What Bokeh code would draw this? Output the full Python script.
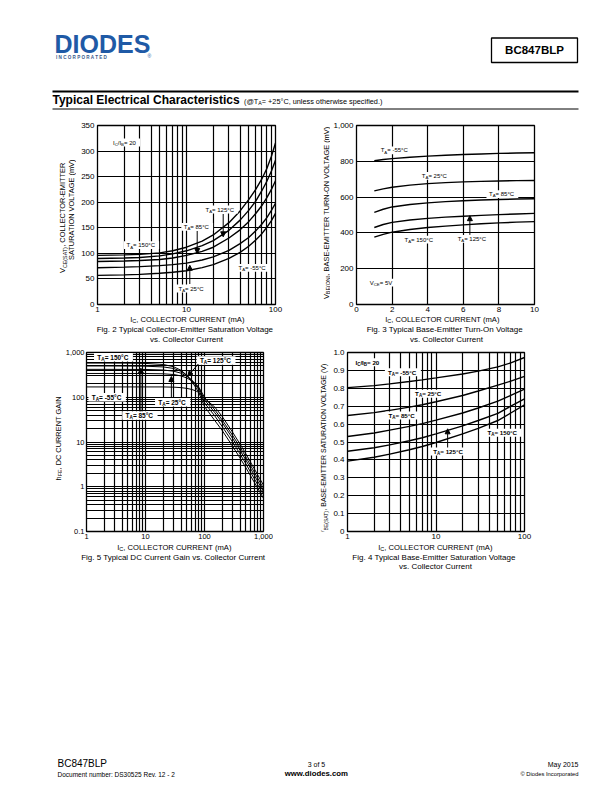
import math
from bokeh.plotting import figure
from bokeh.models import Label, Range1d, FixedTicker, Arrow, NormalHead, BasicTickFormatter
from bokeh.layouts import column, row
from bokeh.embed import file_html
from bokeh.resources import INLINE

FONT = "Liberation Sans"
BLUE = "#1f5aa6"
SUB = 0.72

# ---------------- data ----------------
temps = ["150", "125", "85", "25", "-55"]

# Fig. 2  VCE(SAT) (mV) vs IC (mA), IC/IB = 20
fig2_ic = [1, 2, 3, 5, 7, 10, 15, 20, 30, 40, 50, 60, 70, 80, 90, 100]
fig2_vce_150 = [96, 97, 98, 101, 105, 112, 124, 136, 160, 183, 205, 225, 245, 266, 290, 316]
fig2_vce_125 = [90, 91, 92, 95, 99, 105, 115, 125, 145, 165, 184, 202, 222, 241, 261, 282]
fig2_vce_85 = [84, 85, 86, 88, 91, 96, 104, 112, 130, 146, 162, 178, 193, 209, 225, 242]
fig2_vce_25 = [72, 73, 74, 76, 78, 81, 87, 93, 106, 119, 131, 144, 157, 170, 184, 198]
fig2_vce_m55 = [57, 58, 59, 61, 63, 66, 72, 78, 90, 102, 114, 126, 138, 151, 164, 178]
fig2_xticks = [1, 10, 100]
fig2_xlabels = ["1", "10", "100"]
fig2_yticks = [0, 50, 100, 150, 200, 250, 300, 350]
fig2_ylabels = ["0", "50", "100", "150", "200", "250", "300", "350"]

# Fig. 3  VBE(ON) (mV) vs IC (mA), VCE = 5V
fig3_ic = [1, 1.5, 2, 3, 4, 5, 6, 7, 8, 9, 10]
fig3_vbe_m55 = [803, 810, 815, 823, 829, 834, 838, 841, 844, 846, 848]
fig3_vbe_25 = [635, 646, 655, 667, 675, 681, 685, 688, 690, 692, 693]
fig3_vbe_85 = [515, 532, 545, 559, 568, 575, 580, 584, 587, 589, 591]
fig3_vbe_125 = [430, 447, 459, 472, 481, 488, 493, 498, 502, 506, 509]
fig3_vbe_150 = [376, 392, 404, 419, 430, 438, 445, 451, 456, 460, 463]
fig3_xticks = [0, 2, 4, 6, 8, 10]
fig3_xlabels = ["0", "2", "4", "6", "8", "10"]
fig3_yticks = [0, 200, 400, 600, 800, 1000]
fig3_ylabels = ["0", "200", "400", "600", "800", "1,000"]

# Fig. 5  hFE vs IC (mA)
fig5_ic = [1, 2, 5, 10, 20, 30, 40, 50, 60, 70, 80, 100, 150, 200, 300, 400, 500, 700, 1000]
fig5_hfe_150 = [580, 580, 578, 570, 540, 480, 400, 310, 230, 170, 128, 62, 30, 18, 8.0, 4.4, 2.7, 1.25, 0.55]
fig5_hfe_125 = [500, 500, 498, 494, 476, 440, 380, 310, 245, 190, 148, 75, 38, 22, 10, 5.4, 3.3, 1.5, 0.66]
fig5_hfe_85 = [420, 420, 419, 417, 406, 382, 345, 295, 245, 200, 162, 88, 45, 27, 12, 6.5, 4.0, 1.8, 0.78]
fig5_hfe_25 = [340, 340, 340, 339, 334, 322, 300, 270, 235, 200, 168, 100, 52, 31, 14, 7.6, 4.7, 2.1, 0.92]
fig5_hfe_m55 = [170, 170, 170, 170, 170, 168, 164, 158, 150, 140, 128, 95, 60, 37, 16.5, 9.0, 5.5, 2.5, 1.08]
fig5_xticks = [1, 10, 100, 1000]
fig5_xlabels = ["1", "10", "100", "1,000"]
fig5_yticks = [0.1, 1, 10, 100, 1000]
fig5_ylabels = ["0.1", "1", "10", "100", "1,000"]

# Fig. 4  VBE(SAT) (V) vs IC (mA), IC/IB = 20
fig4_ic = [1, 2, 3, 5, 7, 10, 20, 30, 50, 70, 100]
fig4_vbe_m55 = [0.804, 0.815, 0.825, 0.838, 0.847, 0.858, 0.880, 0.896, 0.920, 0.942, 0.972]
fig4_vbe_25 = [0.648, 0.664, 0.677, 0.695, 0.708, 0.725, 0.760, 0.785, 0.818, 0.840, 0.867]
fig4_vbe_85 = [0.531, 0.550, 0.566, 0.587, 0.603, 0.622, 0.662, 0.690, 0.728, 0.760, 0.796]
fig4_vbe_125 = [0.448, 0.468, 0.484, 0.507, 0.524, 0.545, 0.590, 0.620, 0.660, 0.700, 0.741]
fig4_vbe_150 = [0.393, 0.415, 0.432, 0.457, 0.475, 0.497, 0.545, 0.576, 0.620, 0.662, 0.707]
fig4_xticks = [1, 10, 100]
fig4_xlabels = ["1", "10", "100"]
fig4_yticks = [0, 0.1, 0.2, 0.3, 0.4, 0.5, 0.6, 0.7, 0.8, 0.9, 1.0]
fig4_ylabels = ["0", "0.1", "0.2", "0.3", "0.4", "0.5", "0.6", "0.7", "0.8", "0.9", "1.0"]

LOG_MINOR_1_100 = [m * d for d in (1, 10) for m in range(2, 10)]
LOG_MINOR_1_1000 = [m * d for d in (1, 10, 100) for m in range(2, 10)]
LOG_MINOR_01_1000 = [m * d for d in (0.1, 1, 10, 100) for m in range(2, 10)]


# ---------------- text metrics (Arial / Liberation Sans) ----------------
def _tbl(groups):
    d = {}
    for chars, w in groups:
        for c in chars:
            d[c] = w
    return d


REG = _tbl([(" ,./:;!ftI", 278), ("ijl", 222), ("()-r", 333), ("cksvxyzJ", 500),
            ("0123456789abdeghnopquL", 556), ("=+<>", 584), ("FTZ", 611), ("ABEKPSVXY", 667),
            ("CDHNRUw", 722), ("GOQ", 778), ("Mm", 833), ("W", 944), ("°", 400), ("©®", 737), ("@", 1015)])
BOLD = _tbl([(" ,./!ijlI", 278), ("()-:ft", 333), ("r", 389), ("z", 500), ("0123456789acekvsxyJ", 556),
             ("=+", 584), ("bdghnopquFTZL", 611), ("EPSVXY", 667), ("ABCDHKNRU", 722), ("GOQw", 778),
             ("M", 833), ("m", 889), ("W", 944), ("°", 400), ("@", 975), ("©®", 737)])


def tw(s, size, bold=False):
    t = BOLD if bold else REG
    return sum(t.get(c, 556) for c in s) * size / 1000.0


def to_data(info, px, py):
    fx = (px - info["FL"]) / (info["FR"] - info["FL"])
    fy = (info["FB"] - py) / (info["FB"] - info["FT"])
    x0, x1 = info["xr"]
    y0, y1 = info["yr"]
    if info["xlog"]:
        x = 10 ** (math.log10(x0) + fx * (math.log10(x1) - math.log10(x0)))
    else:
        x = x0 + fx * (x1 - x0)
    if info["ylog"]:
        y = 10 ** (math.log10(y0) + fy * (math.log10(y1) - math.log10(y0)))
    else:
        y = y0 + fy * (y1 - y0)
    return x, y


def ptext(p, info, px, py, parts, size, bold=False, align="left", angle=0.0, box=False, color="black", pad=2.5):
    """Rich text with subscripts; (px, py) = page position of the text's mid-line."""
    sizes = [size * SUB if s else size for _, s in parts]
    widths = [tw(t, fs, bold) for (t, _), fs in zip(parts, sizes)]
    total = sum(widths)
    start = {"left": 0.0, "center": -total / 2.0, "right": -total}[align]
    rot = angle != 0
    ax, ay = to_data(info, px, py)
    if box:
        cx, cy = to_data(info, px + start + total / 2.0, py)
        p.rect(x=[cx], y=[cy], width=total + 2 * pad, height=size * 1.3, width_units="screen",
               height_units="screen", fill_color="white", line_color=None)
    pos = start
    for (t, s), fs, w in zip(parts, sizes, widths):
        down = 0.3 * size if s else 0.0
        if not rot:
            xo, yo = pos, -down
        else:
            xo, yo = down, pos
        p.add_layout(Label(x=ax, y=ay, x_offset=xo, y_offset=yo, text=t, text_font=FONT,
                           text_font_size=f"{fs:.2f}px", text_font_style="bold" if bold else "normal",
                           text_color=color, text_align="left", text_baseline="middle", angle=angle))
        pos += w
    return total


def parrow(p, info, x0, y0, x1, y1, head=True):
    a = to_data(info, x0, y0)
    b = to_data(info, x1, y1)
    end = NormalHead(size=5, fill_color="black", line_color="black", line_width=1) if head else None
    p.add_layout(Arrow(x_start=a[0], y_start=a[1], x_end=b[0], y_end=b[1], line_color="black",
                       line_width=1, end=end))


def ta(t):
    return [("T", 0), ("A", 1), (" = " + t + "°C", 0)]


def chart(page_left, page_top, width, height, left, right, top, bottom, xr, yr, xlog, ylog,
          xt, xm, xl, yt, ym, yl, tick_size=8, ystand=3):
    p = figure(width=width, height=height, x_range=Range1d(*xr), y_range=Range1d(*yr),
               x_axis_type="log" if xlog else "linear", y_axis_type="log" if ylog else "linear",
               output_backend="svg", toolbar_location=None, title=None,
               min_border_left=left, min_border_right=right, min_border_top=top, min_border_bottom=bottom)
    p.xaxis.ticker = FixedTicker(ticks=xt, minor_ticks=xm)
    p.yaxis.ticker = FixedTicker(ticks=yt, minor_ticks=ym)
    p.xaxis.formatter = BasicTickFormatter()
    p.yaxis.formatter = BasicTickFormatter()
    p.xaxis.major_label_overrides = dict(zip(xt, xl))
    p.yaxis.major_label_overrides = dict(zip(yt, yl))
    for ax in (p.xaxis, p.yaxis):
        ax.axis_line_color = None
        ax.major_tick_line_color = None
        ax.minor_tick_line_color = None
        ax.major_tick_out = 0
        ax.major_tick_in = 0
        ax.minor_tick_out = 0
        ax.minor_tick_in = 0
        ax.major_label_text_font = FONT
        ax.major_label_text_font_size = f"{tick_size}px"
        ax.major_label_text_color = "black"
    p.xaxis.major_label_standoff = 2
    p.yaxis.major_label_standoff = ystand
    for g in (p.xgrid, p.ygrid):
        g.grid_line_color = "black"
        g.grid_line_width = 1.2
        g.grid_line_alpha = 1.0
        g.minor_grid_line_color = "black"
        g.minor_grid_line_width = 1.2
    p.outline_line_color = "black"
    p.outline_line_width = 1.3
    p.background_fill_color = "white"
    p.border_fill_color = "white"
    info = dict(FL=page_left + left, FR=page_left + width - right, FT=page_top + top,
                FB=page_top + height - bottom, xr=xr, yr=yr, xlog=xlog, ylog=ylog)
    return p, info


def blank(page_left, page_top, width, height):
    f = figure(width=width, height=height, x_range=Range1d(page_left, page_left + width),
               y_range=Range1d(page_top + height, page_top),
               output_backend="svg", toolbar_location=None, title=None, x_axis_location=None,
               y_axis_location=None, min_border=0)
    f.grid.visible = False
    f.outline_line_color = None
    f.background_fill_color = "white"
    f.border_fill_color = "white"
    info = dict(FL=page_left, FR=page_left + width, FT=page_top, FB=page_top + height,
                xr=(page_left, page_left + width), yr=(page_top + height, page_top), xlog=False, ylog=False)
    return f, info


IC_LABEL = [("I", 0), ("C", 1), (", COLLECTOR CURRENT (mA)", 0)]
IC_IB = [("I", 0), ("C", 1), ("/I", 0), ("B", 1), (" = 20", 0)]
XLF = 7.6
YLF = 7.4
CAPF = 8
ROT = math.pi / 2

# ================= row A (Fig. 2 and Fig. 3) =================
bl2, il2 = blank(0, 120, 76, 196)
p2, i2 = chart(76, 120, 207, 196, 21, 8, 5, 12, (1, 100), (0, 350), True, False,
               fig2_xticks, LOG_MINOR_1_100, fig2_xlabels, fig2_yticks, [], fig2_ylabels)
bl3, il3 = blank(283, 120, 47, 196)
p3, i3 = chart(330, 120, 212, 196, 25, 8, 4, 12, (0, 10), (0, 1000), False, False,
               fig3_xticks, [], fig3_xlabels, fig3_yticks, [], fig3_ylabels)
br3, ir3 = blank(542, 120, 70, 196)
bA, iA = blank(0, 316, 612, 31)

# Fig. 2
for ys in (fig2_vce_150, fig2_vce_125, fig2_vce_85, fig2_vce_25, fig2_vce_m55):
    p2.line(fig2_ic, ys, line_color="black", line_width=1.4)
ptext(p2, i2, 112.5, 142, IC_IB, 6, box=True)
ptext(p2, i2, 205, 209, ta(temps[1]), 6, box=True)
ptext(p2, i2, 183.3, 226.3, ta(temps[2]), 6, box=True)
ptext(p2, i2, 126, 244.7, ta(temps[0]), 6, box=True)
ptext(p2, i2, 178, 288, ta(temps[3]), 6, box=True)
ptext(p2, i2, 238, 267.3, ta(temps[4]), 6, box=True)
parrow(p2, i2, 222.7, 213.5, 222.7, 236.3)
parrow(p2, i2, 196.7, 230.5, 196.7, 253)
parrow(p2, i2, 189.3, 283.5, 189.3, 264.7)
ptext(bl2, il2, 62, 221, [("V", 0), ("CE(SAT)", 1), (", COLLECTOR-EMITTER", 0)], YLF, align="center", angle=ROT)
ptext(bl2, il2, 70.5, 211, [("SATURATION VOLTAGE (mV)", 0)], YLF, align="center", angle=ROT)
ptext(bA, iA, 187, 318.5, IC_LABEL, XLF, align="center")
ptext(bA, iA, 186, 328.5, [("Fig. 2  Typical Collector-Emitter Saturation Voltage", 0)], CAPF, align="center")
ptext(bA, iA, 186, 338.5, [("vs. Collector Current", 0)], CAPF, align="center")

# Fig. 3
for ys in (fig3_vbe_m55, fig3_vbe_25, fig3_vbe_85, fig3_vbe_125, fig3_vbe_150):
    p3.line(fig3_ic, ys, line_color="black", line_width=1.4)
ptext(p3, i3, 379.3, 149, ta(temps[4]), 6, box=True)
ptext(p3, i3, 420.7, 174.7, ta(temps[3]), 6, box=True)
ptext(p3, i3, 488.3, 193, ta(temps[2]), 6, box=True)
ptext(p3, i3, 403.3, 238.7, ta(temps[0]), 6, box=True)
ptext(p3, i3, 456.7, 238, ta(temps[1]), 6, box=True)
ptext(p3, i3, 368.3, 282, [("V", 0), ("CE", 1), (" = 5V", 0)], 6, box=True)
parrow(p3, i3, 469, 234, 469, 214.7)
ptext(bl3, il3, 325.5, 215, [("V", 0), ("BE(ON)", 1), (", BASE-EMITTER TURN-ON VOLTAGE (mV)", 0)], YLF,
      align="center", angle=ROT)
ptext(bA, iA, 442, 318.5, IC_LABEL, XLF, align="center")
ptext(bA, iA, 446, 328.5, [("Fig. 3  Typical Base-Emitter Turn-On Voltage", 0)], CAPF, align="center")
ptext(bA, iA, 446, 338.5, [("vs. Collector Current", 0)], CAPF, align="center")

# ================= row B (Fig. 5 and Fig. 4) =================
bl5, il5 = blank(0, 347, 62, 196)
p5, i5 = chart(62, 347, 211, 196, 21, 10, 5, 12, (1, 1000), (0.1, 1000), True, True,
               fig5_xticks, LOG_MINOR_1_1000, fig5_xlabels, fig5_yticks, LOG_MINOR_01_1000, fig5_ylabels,
               tick_size=7.5, ystand=2)
bl4, il4 = blank(273, 347, 57, 196)
p4, i4 = chart(330, 347, 202, 196, 16, 8, 5, 12, (1, 100), (0, 1.0), True, False,
               fig4_xticks, LOG_MINOR_1_100, fig4_xlabels, fig4_yticks, [], fig4_ylabels)
br4, ir4 = blank(532, 347, 80, 196)
bB, iB = blank(0, 543, 612, 37)

# Fig. 5
for ys in (fig5_hfe_150, fig5_hfe_125, fig5_hfe_85, fig5_hfe_25, fig5_hfe_m55):
    p5.line(fig5_ic, ys, line_color="black", line_width=1.0)
ptext(p5, i5, 94, 356.7, ta(temps[0]), 6.5, bold=True, box=True, pad=3)
ptext(p5, i5, 198.3, 360, ta(temps[1]), 6.5, bold=True, box=True, pad=3)
ptext(p5, i5, 88.3, 396.7, ta(temps[4]), 6.5, bold=True, box=True, pad=3)
ptext(p5, i5, 156, 401.7, ta(temps[3]), 6.5, bold=True, box=True, pad=3)
ptext(p5, i5, 122.7, 415, ta(temps[2]), 6.5, bold=True, box=True, pad=3)
parrow(p5, i5, 196.7, 363.5, 186, 375.7)
parrow(p5, i5, 169.3, 397, 169.3, 376)
parrow(p5, i5, 138.3, 411, 138.3, 367.7)
ptext(bl5, il5, 57.5, 441, [("h", 0), ("FE", 1), (", DC CURRENT GAIN", 0)], YLF, align="center", angle=ROT)
ptext(bB, iB, 174, 546.5, IC_LABEL, XLF, align="center")
ptext(bB, iB, 174, 556.5, [("Fig. 5  Typical DC Current Gain vs. Collector Current", 0)], CAPF, align="center")

# Fig. 4
for ys in (fig4_vbe_m55, fig4_vbe_25, fig4_vbe_85, fig4_vbe_125, fig4_vbe_150):
    p4.line(fig4_ic, ys, line_color="black", line_width=1.4)
ptext(p4, i4, 354, 361.7, IC_IB, 6.2, bold=True, box=True)
ptext(p4, i4, 386.7, 371.7, ta(temps[4]), 6.2, bold=True, box=True, pad=3)
ptext(p4, i4, 414, 393.3, ta(temps[3]), 6.2, bold=True, box=True, pad=3)
ptext(p4, i4, 387.3, 415, ta(temps[2]), 6.2, bold=True, box=True, pad=3)
ptext(p4, i4, 432.3, 451, ta(temps[1]), 6.2, bold=True, box=True, pad=3)
ptext(p4, i4, 486.7, 432.3, ta(temps[0]), 6.2, bold=True, box=True, pad=3)
parrow(p4, i4, 446.7, 447, 446.7, 428.3)
ptext(bl4, il4, 323, 452, [("V", 0), ("BE(SAT)", 1), (", BASE-EMITTER SATURATION VOLTAGE (V)", 0)], 7.0,
      align="center", angle=ROT)
ptext(bB, iB, 435, 546.5, IC_LABEL, XLF, align="center")
ptext(bB, iB, 435, 557, [("Fig. 4  Typical Base-Emitter Saturation Voltage", 0)], CAPF, align="center")
ptext(bB, iB, 435, 566, [("vs. Collector Current", 0)], CAPF, align="center")

# ================= header / footer =================
h, ih = blank(0, 0, 612, 120)
ptext(h, ih, 54, 43, [("DIODES", 0)], 25, bold=True, color=BLUE)
ptext(h, ih, 55.5, 57.3, [("I    N    C    O    R    P    O    R    A    T    E    D", 0)], 4.6, bold=True, color="#3a5a8c")
ptext(h, ih, 147, 55.5, [("®", 0)], 5, color=BLUE)
h.quad(left=[491], right=[577], top=[37.5], bottom=[62], fill_color=None, line_color="black", line_width=1.3)
ptext(h, ih, 534, 49.5, [("BC847BLP", 0)], 11.5, bold=True, align="center")
h.line([52, 578], [91, 91], line_color="black", line_width=2.2)
h.line([52, 578], [108.5, 108.5], line_color="black", line_width=1)
ptext(h, ih, 52, 99.5, [("Typical Electrical Characteristics", 0)], 12, bold=True)
ptext(h, ih, 243.5, 100.8, [("(@T", 0), ("A", 1), (" = +25°C, unless otherwise specified.)", 0)], 7.3)

f, iff = blank(0, 580, 612, 204)
ptext(f, iff, 57, 763.4, [("BC847BLP", 0)], 10)
ptext(f, iff, 57, 773.7, [("Document number: DS30525 Rev. 12 - 2", 0)], 6.5)
ptext(f, iff, 316, 763.8, [("3 of 5", 0)], 7, align="center")
ptext(f, iff, 316, 773.3, [("www.diodes.com", 0)], 7.8, bold=True, align="center")
ptext(f, iff, 578, 764.3, [("May 2015", 0)], 7, align="right")
ptext(f, iff, 578, 773, [("© Diodes Incorporated", 0)], 5.8, align="right")

layout = column(
    h,
    column(row(bl2, p2, bl3, p3, br3), bA),
    column(row(bl5, p5, bl4, p4, br4), bB),
    f,
)
open("out.html", "w").write(file_html(layout, INLINE))
